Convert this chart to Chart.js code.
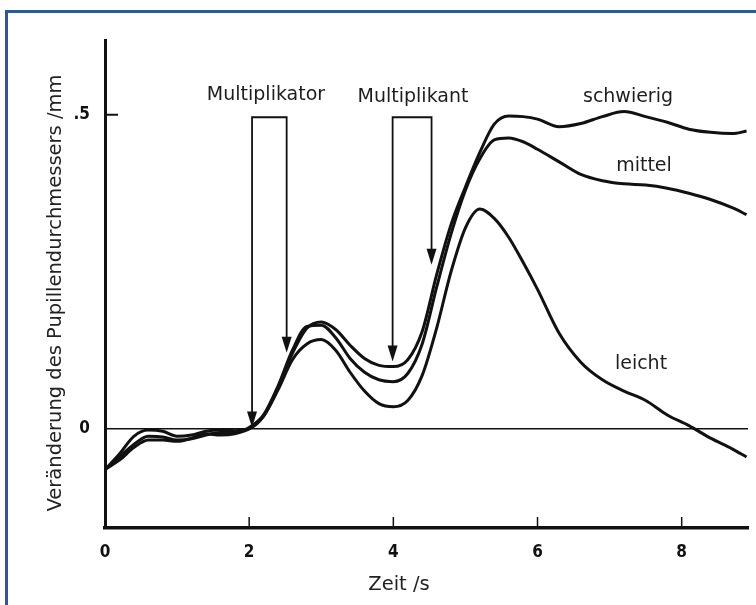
<!DOCTYPE html>
<html>
<head>
<meta charset="utf-8">
<script src="https://cdn.jsdelivr.net/npm/chart.js@4"></script>
<style>
  html, body { margin: 0; padding: 0; background: #fff; overflow: hidden; }
  #wrap { position: relative; width: 756px; height: 605px; overflow: hidden; }
  #frame { position: absolute; left: 5px; top: 10px; width: 900px; height: 800px;
           border: 3px solid #2d5a94; box-sizing: border-box; }
  #pupil { position: absolute; left: 0; top: 0; }
</style>
</head>
<body>
<div id="wrap">
  <div id="frame"></div>
  <canvas id="pupil" width="756" height="605"></canvas>
</div>
<script>
// time axis (s) shared by all three curves
const timeS = [0, 0.2, 0.4, 0.6, 0.8, 1.0, 1.2, 1.4, 1.6, 1.8, 2.0, 2.2, 2.4, 2.6, 2.8, 3.0, 3.2, 3.4, 3.6, 3.8,
               4.0, 4.2, 4.4, 4.6, 4.8, 5.0, 5.2, 5.4, 5.6, 5.8, 6.0, 6.3, 6.6, 6.9, 7.2, 7.5, 7.8, 8.1, 8.4, 8.7, 8.9];

// pupil diameter change (mm) per difficulty
const schwierig = [-0.065, -0.04, -0.012, -0.002, -0.004, -0.012, -0.01, -0.004, -0.002, -0.003, 0.0, 0.02, 0.065, 0.12, 0.16, 0.17, 0.158, 0.133, 0.112, 0.101,
                   0.099, 0.11, 0.155, 0.245, 0.325, 0.385, 0.44, 0.485, 0.498, 0.497, 0.493, 0.481, 0.486, 0.497, 0.505, 0.497, 0.488, 0.477, 0.472, 0.47, 0.474];
const mittel    = [-0.065, -0.045, -0.025, -0.012, -0.013, -0.018, -0.016, -0.01, -0.006, -0.006, 0.002, 0.022, 0.068, 0.125, 0.163, 0.165, 0.145, 0.112, 0.09, 0.078,
                   0.075, 0.088, 0.135, 0.225, 0.31, 0.38, 0.43, 0.46, 0.463, 0.457, 0.445, 0.425, 0.405, 0.395, 0.39, 0.388, 0.383, 0.375, 0.365, 0.352, 0.341];
const leicht    = [-0.065, -0.05, -0.03, -0.018, -0.018, -0.02, -0.015, -0.008, -0.01, -0.008, 0.0, 0.02, 0.062, 0.11, 0.135, 0.142, 0.125, 0.09, 0.06, 0.04,
                   0.035, 0.045, 0.085, 0.16, 0.25, 0.32, 0.35, 0.335, 0.305, 0.265, 0.222, 0.152, 0.106, 0.078, 0.06, 0.045, 0.022, 0.005, -0.015, -0.032, -0.045];

const xTicks = [0, 2, 4, 6, 8];
const yTicks = [0, 0.5];
const yTickLabels = ['0', '.5'];

// stimulus markers: [time, value at arrow tip]
const multiplikatorArrows = [[2.04, 0.002], [2.52, 0.121]];
const multiplikantArrows  = [[3.99, 0.107], [4.53, 0.261]];
const bracketTop = 0.496;

const textFont = '19px "DejaVu Sans", Verdana, sans-serif';
const titleFont = '19.5px "DejaVu Sans", Verdana, sans-serif';
const tickFont = { family: '"Liberation Sans Narrow", "DejaVu Sans Condensed", sans-serif', size: 17, weight: 'bold' };

function series(values) {
  return timeS.map((t, i) => ({ x: t, y: values[i] }));
}

function drawBracket(ctx, xs, ys, pair, top) {
  const xl = xs.getPixelForValue(pair[0][0]);
  const xr = xs.getPixelForValue(pair[1][0]);
  const yt = ys.getPixelForValue(top);
  const tips = pair.map(p => ys.getPixelForValue(p[1]));
  ctx.beginPath();
  ctx.moveTo(xl, tips[0] - 14);
  ctx.lineTo(xl, yt);
  ctx.lineTo(xr, yt);
  ctx.lineTo(xr, tips[1] - 14);
  ctx.stroke();
  [xl, xr].forEach((x, i) => {
    ctx.beginPath();
    ctx.moveTo(x - 5, tips[i] - 16);
    ctx.lineTo(x + 5, tips[i] - 16);
    ctx.lineTo(x, tips[i]);
    ctx.closePath();
    ctx.fill();
  });
}

const decorations = {
  id: 'decorations',
  beforeDatasetsDraw(chart) {
    const { ctx, chartArea, scales: { x, y } } = chart;
    ctx.save();
    // zero line
    ctx.strokeStyle = '#111';
    ctx.lineWidth = 1.5;
    const y0 = y.getPixelForValue(0);
    ctx.beginPath();
    ctx.moveTo(chartArea.left, y0);
    ctx.lineTo(chartArea.right, y0);
    ctx.stroke();
    // inward tick marks
    xTicks.forEach(v => {
      if (v === 0) return;
      const px = x.getPixelForValue(v);
      ctx.beginPath();
      ctx.moveTo(px, chartArea.bottom);
      ctx.lineTo(px, chartArea.bottom - 11);
      ctx.stroke();
    });
    ctx.lineWidth = 2;
    yTicks.forEach(v => {
      if (v === 0) return;
      const py = y.getPixelForValue(v);
      ctx.beginPath();
      ctx.moveTo(chartArea.left, py);
      ctx.lineTo(chartArea.left + 13, py);
      ctx.stroke();
    });
    ctx.restore();
  },
  afterDatasetsDraw(chart) {
    const { ctx, scales: { x, y } } = chart;
    ctx.save();
    ctx.strokeStyle = '#111';
    ctx.fillStyle = '#111';
    ctx.lineWidth = 1.8;
    drawBracket(ctx, x, y, multiplikatorArrows, bracketTop);
    drawBracket(ctx, x, y, multiplikantArrows, bracketTop);

    ctx.fillStyle = '#1e1e1e';
    ctx.font = textFont;
    ctx.textAlign = 'center';
    ctx.textBaseline = 'alphabetic';
    ctx.fillText('Multiplikator', 266, 100);
    ctx.fillText('Multiplikant', 413, 102);
    ctx.fillText('schwierig', 628, 102);
    ctx.fillText('mittel', 644, 171);
    ctx.fillText('leicht', 641, 369);

    // axis titles
    ctx.fillStyle = '#222';
    ctx.font = titleFont;
    ctx.fillText('Zeit /s', 399, 590);
    ctx.translate(56, 293);
    ctx.rotate(-Math.PI / 2);
    ctx.textBaseline = 'middle';
    ctx.fillText('Veränderung des Pupillendurchmessers /mm', 0, 0);
    ctx.restore();
  }
};

const lineStyle = {
  borderColor: '#111',
  borderWidth: 3,
  pointRadius: 0,
  fill: false,
  cubicInterpolationMode: 'monotone'
};

new Chart(document.getElementById('pupil'), {
  type: 'line',
  data: {
    datasets: [
      { label: 'schwierig', data: series(schwierig), ...lineStyle },
      { label: 'mittel', data: series(mittel), ...lineStyle },
      { label: 'leicht', data: series(leicht), ...lineStyle }
    ]
  },
  options: {
    responsive: false,
    animation: false,
    layout: { padding: { left: 0, top: 40, right: 8, bottom: 0 } },
    plugins: { legend: { display: false }, tooltip: { enabled: false } },
    scales: {
      x: {
        type: 'linear',
        min: 0,
        max: 8.92,
        afterBuildTicks: s => { s.ticks = xTicks.map(v => ({ value: v })); },
        afterFit: s => { s.height = 77; },
        grid: { display: false, drawTicks: false },
        border: { display: true, color: '#111', width: 3.5 },
        ticks: { padding: 14, color: '#111', font: tickFont, maxRotation: 0, autoSkip: false }
      },
      y: {
        type: 'linear',
        min: -0.158,
        max: 0.619,
        afterBuildTicks: s => { s.ticks = yTicks.map(v => ({ value: v })); },
        afterFit: s => { s.width = 105; },
        grid: { display: false, drawTicks: false },
        border: { display: true, color: '#111', width: 3 },
        ticks: {
          padding: 15,
          color: '#111',
          font: tickFont,
          callback: v => yTickLabels[yTicks.indexOf(v)]
        }
      }
    }
  },
  plugins: [decorations]
});
</script>
</body>
</html>
